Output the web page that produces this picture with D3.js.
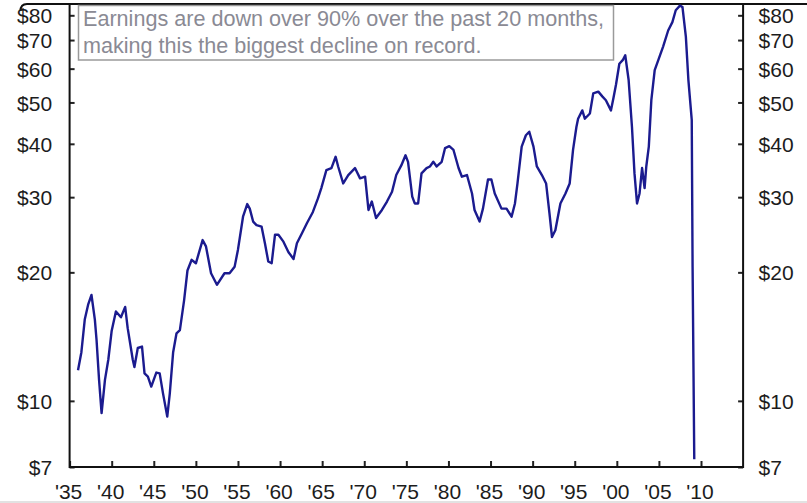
<!DOCTYPE html>
<html>
<head>
<meta charset="utf-8">
<script src="https://cdn.jsdelivr.net/npm/d3@7"></script>
<style>
  body { margin: 0; background: #fff; }
  svg { display: block; font-family: "Liberation Sans", Arial, sans-serif; }
</style>
</head>
<body>
<div id="chart"></div>
<script>
// S&P 500 operating earnings (log scale)
var years = [
  1936.0, 1936.4, 1936.8, 1937.2, 1937.6, 1938.0, 1938.2, 1938.5, 1938.8, 1939.2,
  1939.6, 1940.0, 1940.5, 1941.1, 1941.6, 1941.9, 1942.5, 1942.7, 1943.1, 1943.6,
  1943.9, 1944.3, 1944.7, 1945.3, 1945.7, 1946.1, 1946.6, 1946.9, 1947.3, 1947.7,
  1948.1, 1948.6, 1949.0, 1949.5, 1950.0, 1950.8, 1951.2, 1951.8, 1952.5, 1953.4,
  1954.0, 1954.6, 1955.0, 1955.6, 1956.1, 1956.4, 1956.8, 1957.2, 1957.8, 1958.2,
  1958.6, 1959.0, 1959.4, 1959.8, 1960.4, 1961.0, 1961.6, 1962.0, 1962.6, 1963.2,
  1963.9, 1964.5, 1964.9, 1965.5, 1966.1, 1966.6, 1966.9, 1967.5, 1968.1, 1968.9,
  1969.5, 1970.1, 1970.5, 1970.9, 1971.4, 1972.1, 1972.7, 1973.3, 1973.8, 1974.4,
  1974.9, 1975.2, 1975.7, 1976.0, 1976.4, 1976.8, 1977.4, 1977.8, 1978.2, 1978.6,
  1979.2, 1979.6, 1980.1, 1980.6, 1981.2, 1981.6, 1982.2, 1982.8, 1983.1, 1983.7,
  1984.1, 1984.7, 1985.1, 1985.5, 1986.3, 1986.9, 1987.5, 1987.9, 1988.2, 1988.7,
  1989.2, 1989.6, 1990.1, 1990.5, 1991.1, 1991.6, 1992.0, 1992.3, 1992.7, 1993.3,
  1993.9, 1994.4, 1994.8, 1995.2, 1995.4, 1995.9, 1996.2, 1996.8, 1997.2, 1997.8,
  1998.3, 1998.7, 1999.3, 1999.6, 1999.9, 2000.3, 2000.7, 2001.0, 2001.4, 2001.8,
  2002.1, 2002.4, 2002.7, 2003.0, 2003.3, 2003.5, 2003.8, 2004.1, 2004.5, 2005.0,
  2005.5, 2006.1, 2006.6, 2007.0, 2007.5, 2007.8, 2008.2, 2008.5, 2008.9, 2009.0,
  2009.2
];
var earnings = [
  11.8, 13.0, 15.5, 16.8, 17.7, 15.5, 13.9, 11.2, 9.36, 11.2,
  12.5, 14.6, 16.2, 15.7, 16.6, 14.8, 12.5, 12.0, 13.3, 13.4,
  11.6, 11.4, 10.8, 11.65, 11.6, 10.4, 9.19, 10.4, 13.0, 14.4,
  14.65, 17.2, 20.2, 21.4, 21.0, 23.8, 23.0, 19.9, 18.7, 19.9,
  19.9, 20.6, 22.6, 27.0, 28.9, 28.2, 26.3, 25.8, 25.6, 23.4,
  21.2, 21.0, 24.5, 24.5, 23.6, 22.3, 21.5, 23.4, 24.7, 26.1,
  27.7, 29.8, 31.5, 34.7, 35.1, 37.3, 35.4, 32.3, 33.8, 35.1,
  33.2, 33.5, 28.0, 29.3, 26.8, 28.0, 29.3, 30.9, 33.8, 35.6,
  37.6, 36.3, 30.1, 29.0, 29.0, 34.1, 35.1, 35.4, 36.3, 35.4,
  36.3, 39.1, 39.5, 38.7, 35.1, 33.5, 33.8, 30.6, 28.0, 26.3,
  28.2, 33.0, 33.0, 30.6, 28.2, 28.2, 27.0, 29.0, 32.3, 39.4,
  41.9, 42.7, 39.4, 35.4, 33.8, 32.3, 27.5, 24.2, 25.1, 29.0,
  30.6, 32.3, 38.7, 43.8, 45.8, 47.9, 45.8, 47.1, 52.5, 53.0,
  51.6, 50.6, 47.9, 51.2, 55.0, 61.6, 62.8, 64.5, 56.5, 43.8,
  34.1, 29.0, 30.6, 35.1, 31.5, 35.4, 39.4, 50.6, 59.5, 63.4,
  67.6, 73.7, 77.1, 82.2, 84.3, 83.6, 71.3, 56.5, 45.5, 20.6,
  7.3
];

var yTicks = [7, 10, 20, 30, 40, 50, 60, 70, 80];
var xTicks = [1935, 1940, 1945, 1950, 1955, 1960, 1965, 1970, 1975, 1980, 1985, 1990, 1995, 2000, 2005, 2010];
var noteLines = [
  "Earnings are down over 90% over the past 20 months,",
  "making this the biggest decline on record."
];

var width = 807,
  height = 503,
  plotLeft = 69.6,
  plotRight = 743.1,
  plotTop = 4,
  plotBottom = 467;

var x = d3.scaleLinear().domain([1935, 2015]).range([plotLeft, plotRight]);
var y = d3.scaleLog().domain([7, 80]).range([plotBottom, 15.3]);

var svg = d3
  .select("#chart")
  .append("svg")
  .attr("width", width)
  .attr("height", height);

// frame line at the very top (bottom edge of a box above the chart)
svg
  .append("path")
  .attr("d", "M20.5,11 Q20.5,4 27,4 L807,4")
  .attr("fill", "none")
  .attr("stroke", "#111")
  .attr("stroke-width", 2);

// light page edge at the bottom
svg
  .append("line")
  .attr("x1", 0)
  .attr("x2", width)
  .attr("y1", 502)
  .attr("y2", 502)
  .attr("stroke", "#e2e2e2")
  .attr("stroke-width", 2);

function styleAxis(g) {
  g.select(".domain").remove();
  g.selectAll(".tick line").attr("stroke", "#222").attr("stroke-width", 2);
  g.selectAll(".tick text")
    .attr("fill", "#1c1c1c")
    .attr("font-size", "21px")
    .attr("font-family", '"Liberation Sans", Arial, sans-serif');
}

var leftAxis = svg
  .append("g")
  .attr("transform", "translate(" + plotLeft + ",0)")
  .call(
    d3.axisLeft(y)
      .tickValues(yTicks)
      .tickSize(-5)
      .tickPadding(17.5)
      .tickFormat(function (d) { return "$" + d; })
  )
  .call(styleAxis);
leftAxis.selectAll(".tick text").attr("dy", "0.36em");

var rightAxis = svg
  .append("g")
  .attr("transform", "translate(" + plotRight + ",0)")
  .call(
    d3.axisRight(y)
      .tickValues(yTicks)
      .tickSize(-5)
      .tickPadding(15.5)
      .tickFormat(function (d) { return "$" + d; })
  )
  .call(styleAxis);
rightAxis.selectAll(".tick text").attr("dy", "0.36em");

var bottomAxis = svg
  .append("g")
  .attr("transform", "translate(0," + plotBottom + ")")
  .call(
    d3.axisBottom(x)
      .tickValues(xTicks)
      .tickSize(-6)
      .tickPadding(17)
      .tickFormat(function (d) { return "'" + String(d).slice(2); })
  )
  .call(styleAxis);
bottomAxis.selectAll(".tick text").attr("dx", "-1.5");

// axis lines: left, right and bottom
svg
  .append("path")
  .attr("d", "M" + plotLeft + "," + plotTop + "V" + plotBottom + "H" + plotRight + "V" + plotTop)
  .attr("fill", "none")
  .attr("stroke", "#111")
  .attr("stroke-width", 2);

// earnings line
var points = years.map(function (yr, i) { return [yr, earnings[i]]; });
var line = d3
  .line()
  .x(function (d) { return x(d[0]); })
  .y(function (d) { return y(d[1]); });

svg
  .append("path")
  .datum(points)
  .attr("d", line)
  .attr("fill", "none")
  .attr("stroke", "#1b1b8f")
  .attr("stroke-width", 2.4)
  .attr("stroke-linejoin", "round");

// annotation box
var note = svg.append("g");
note
  .append("rect")
  .attr("x", 78.5)
  .attr("y", 5.5)
  .attr("width", 535)
  .attr("height", 54.5)
  .attr("fill", "#fff")
  .attr("stroke", "#9a9a9a")
  .attr("stroke-width", 1.5);
note
  .selectAll("text")
  .data(noteLines)
  .enter()
  .append("text")
  .attr("x", 83)
  .attr("y", function (d, i) { return 26 + i * 27; })
  .attr("fill", "#8a8a94")
  .attr("font-size", "21.6px")
  .text(function (d) { return d; });
</script>
</body>
</html>
